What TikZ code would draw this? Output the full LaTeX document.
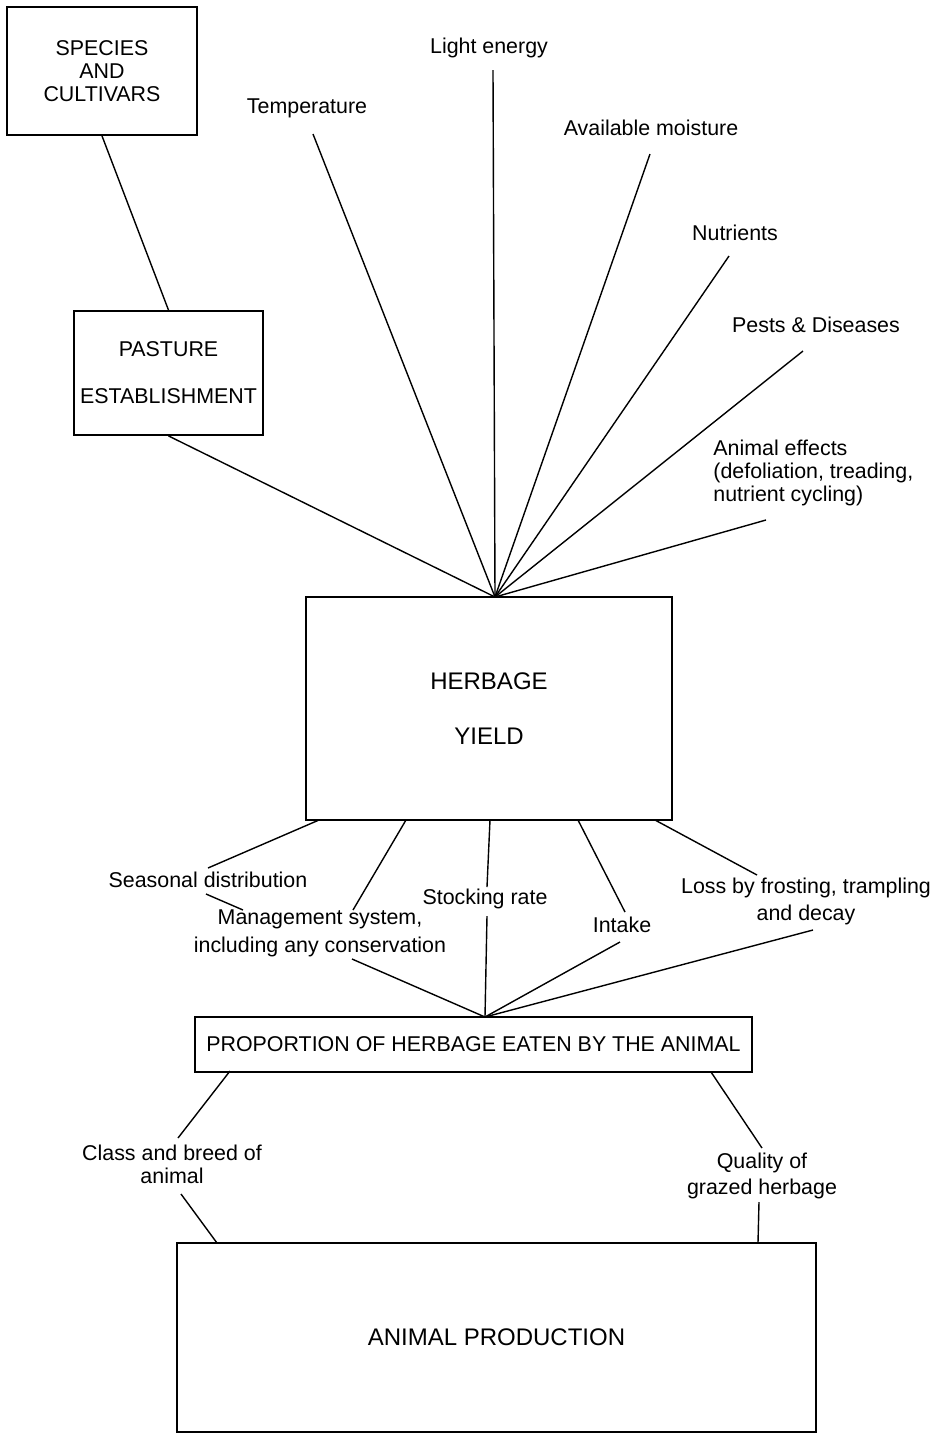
\documentclass[tikz,border=0pt]{standalone}
\usepackage{fontspec}
\setmainfont{Liberation Sans}
\newcommand\lblfont{\fontsize{10.7}{11.5}\selectfont}
\newcommand\bigboxfont{\fontsize{12}{13}\selectfont}
\begin{document}
\begin{tikzpicture}[x=0.5pt,y=-0.5pt,
  box/.style={draw, line width=0.9pt, inner sep=0pt, align=center, font=\lblfont},
  lbl/.style={inner sep=1pt, align=center, font=\lblfont},
  conn/.style={line width=0.7pt}]
\useasboundingbox (0,0) rectangle (939,1437);
% boxes
\node[box, minimum width=95pt, minimum height=64pt] (species) at (102,71) {SPECIES\\AND\\CULTIVARS};
\node[box, minimum width=94.5pt, minimum height=62pt] (pasture) at (168.5,373) {PASTURE\\[12pt]ESTABLISHMENT};
\node[box, font=\bigboxfont, minimum width=183pt, minimum height=111.5pt] (herb) at (489,708.5) {HERBAGE\\[14.5pt]YIELD};
\node[box, minimum width=278.5pt, minimum height=27.5pt] (prop) at (473.5,1044.5) {PROPORTION OF HERBAGE EATEN BY THE ANIMAL};
\node[box, font=\bigboxfont, minimum width=319.5pt, minimum height=94.5pt] (prod) at (496.5,1337.5) {ANIMAL PRODUCTION};
% labels
\node[lbl] (temp) at (307,108) {Temperature};
\node[lbl] (light) at (489,48) {Light energy};
\node[lbl] (moist) at (651,128) {Available moisture};
\node[lbl] (nutr) at (735,233) {Nutrients};
\node[lbl] (pests) at (816,325) {Pests \& Diseases};
\node[lbl, align=left, anchor=west] (anim) at (711,473) {Animal effects\\(defoliation, treading,\\nutrient cycling)};
\node[lbl] (seas) at (208,880) {Seasonal distribution};
\node[lbl] (mgmt) at (320,933) {Management system,\\[2.5pt]including any conservation};
\node[lbl] (stock) at (485,899) {Stocking rate};
\node[lbl] (intake) at (622,925) {Intake};
\node[lbl] (loss) at (806,901) {Loss by frosting, trampling\\[2pt]and decay};
\node[lbl] (class) at (172,1164) {Class and breed of\\animal};
\node[lbl] (quality) at (762,1176) {Quality of\\[1.5pt]grazed herbage};
% connector end points
\coordinate (conv) at (495,597);
\coordinate (conv2) at (485,1017);
\coordinate (tempE) at (313,134);
\coordinate (lightE) at (493,70);
\coordinate (moistE) at (650,154);
\coordinate (nutrE) at (729,256);
\coordinate (pestsE) at (803,351);
\coordinate (animE) at (766,520);
\coordinate (h1) at (319,820);
\coordinate (seasT) at (208,868);
\coordinate (seasB) at (206,894);
\coordinate (mgmtL) at (243,910);
\coordinate (h2) at (406,820);
\coordinate (mgmtT) at (353,910);
\coordinate (mgmtB) at (352,959);
\coordinate (h3) at (490,820);
\coordinate (stockT) at (487,887);
\coordinate (stockB) at (487,916);
\coordinate (h4) at (578,820);
\coordinate (intakeT) at (625,912);
\coordinate (intakeB) at (620,942);
\coordinate (h5) at (655,820);
\coordinate (lossT) at (757,875);
\coordinate (lossB) at (813,930);
\coordinate (p1) at (230,1071);
\coordinate (classT) at (178,1138);
\coordinate (classB) at (181,1194);
\coordinate (a1) at (217,1243);
\coordinate (p2) at (711,1072);
\coordinate (qualT) at (762,1148);
\coordinate (qualB) at (759,1202);
\coordinate (a2) at (758,1243);
% connectors
\draw[conn] (species.south) -- (pasture.north);
\draw[conn] (pasture.south) -- (conv);
\draw[conn] (tempE) -- (conv);
\draw[conn] (lightE) -- (conv);
\draw[conn] (moistE) -- (conv);
\draw[conn] (nutrE) -- (conv);
\draw[conn] (pestsE) -- (conv);
\draw[conn] (animE) -- (conv);
\draw[conn] (h1) -- (seasT);
\draw[conn] (seasB) -- (mgmtL);
\draw[conn] (h2) -- (mgmtT);
\draw[conn] (mgmtB) -- (conv2);
\draw[conn] (h3) -- (stockT);
\draw[conn] (stockB) -- (conv2);
\draw[conn] (h4) -- (intakeT);
\draw[conn] (intakeB) -- (conv2);
\draw[conn] (h5) -- (lossT);
\draw[conn] (lossB) -- (conv2);
\draw[conn] (p1) -- (classT);
\draw[conn] (classB) -- (a1);
\draw[conn] (p2) -- (qualT);
\draw[conn] (qualB) -- (a2);
\end{tikzpicture}
\end{document}
